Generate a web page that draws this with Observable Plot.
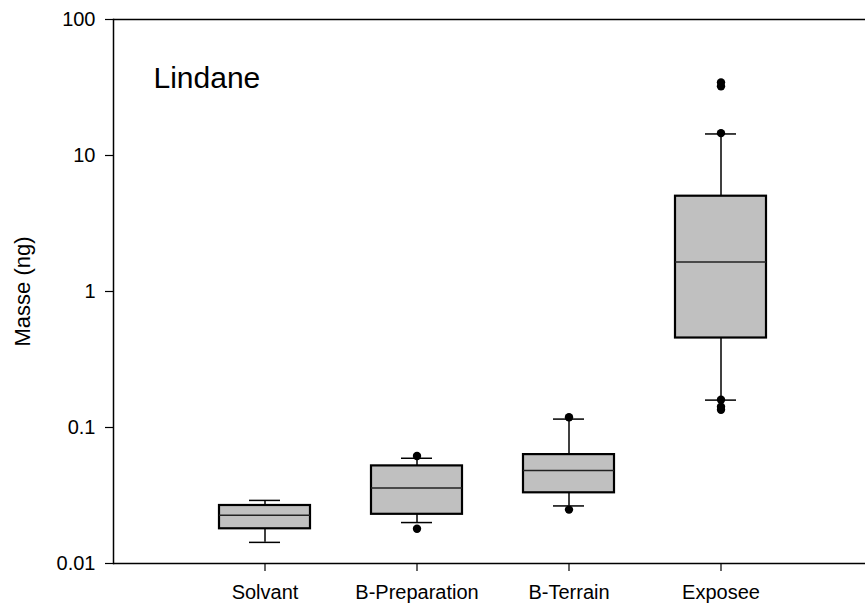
<!DOCTYPE html>
<html>
<head>
<meta charset="utf-8">
<script src="https://cdn.jsdelivr.net/npm/d3@7"></script>
<script src="https://cdn.jsdelivr.net/npm/@observablehq/plot@0.6"></script>
<style>
  body { margin: 0; background: #fff; }
  #chart svg { display: block; }
</style>
</head>
<body>
<div id="chart"></div>
<script>
// Lindane mass per sample group (ng), box-plot summaries
const categories = ["Solvant", "B-Preparation", "B-Terrain", "Exposee"];
const q1 = [0.0180, 0.0230, 0.0331, 0.455];
const medians = [0.0226, 0.0359, 0.0483, 1.65];
const q3 = [0.0267, 0.0522, 0.0632, 5.02];
const whiskerLow = [0.0143, 0.0200, 0.0265, 0.159];
const whiskerHigh = [0.0291, 0.0594, 0.1153, 14.4];
const outlierGroup = ["B-Preparation", "B-Preparation", "B-Terrain", "B-Terrain",
  "Exposee", "Exposee", "Exposee", "Exposee", "Exposee", "Exposee"];
const outlierValue = [0.0618, 0.0180, 0.119, 0.0249, 34.5, 32.3, 14.6, 0.160, 0.142, 0.135];
const yTicks = [0.01, 0.1, 1, 10, 100];
const yTickLabels = ["0.01", "0.1", "1", "10", "100"];
const yLabel = "Masse (ng)";
const panelTitle = "Lindane";

const boxes = categories.map((c, i) => ({
  group: c, q1: q1[i], median: medians[i], q3: q3[i],
  lo: whiskerLow[i], hi: whiskerHigh[i]
}));
const outliers = outlierGroup.map((g, i) => ({group: g, value: outlierValue[i]}));

const font = "'Liberation Sans', Arial, Helvetica, sans-serif";

const chart = Plot.plot({
  width: 865,
  height: 608,
  marginLeft: 113,
  marginRight: 0,
  marginTop: 19,
  marginBottom: 45,
  style: {fontFamily: font, fontSize: "20px", color: "#000", background: "#fff"},
  x: {
    type: "band",
    domain: categories,
    range: [113, 873],
    paddingInner: 0.4,
    paddingOuter: 0.7
  },
  y: {type: "log", domain: [0.01, 100]},
  marks: [
    // whisker stems
    Plot.ruleX(boxes, {x: "group", y1: "lo", y2: "q1", stroke: "#000", strokeWidth: 1.5}),
    Plot.ruleX(boxes, {x: "group", y1: "q3", y2: "hi", stroke: "#000", strokeWidth: 1.5}),
    // whisker caps
    Plot.tickY(boxes, {x: "group", y: "lo", stroke: "#000", strokeWidth: 1.5, inset: 30}),
    Plot.tickY(boxes, {x: "group", y: "hi", stroke: "#000", strokeWidth: 1.5, inset: 30}),
    // interquartile boxes
    Plot.barY(boxes, {x: "group", y1: "q1", y2: "q3", fill: "#c0c0c0", stroke: "#000", strokeWidth: 2.2}),
    // medians
    Plot.tickY(boxes, {x: "group", y: "median", stroke: "#222", strokeWidth: 1.5}),
    // outliers
    Plot.dot(outliers, {x: "group", y: "value", r: 4.2, fill: "#000", stroke: "none"}),
    // frame lines: bottom, top, left
    Plot.ruleY([0.01], {stroke: "#000", strokeWidth: 1.5}),
    Plot.ruleY([100], {stroke: "#000", strokeWidth: 1.5}),
    Plot.frame({anchor: "left", stroke: "#000", strokeWidth: 1.5}),
    Plot.axisY({
      ticks: yTicks,
      tickFormat: (d) => yTickLabels[yTicks.indexOf(d)],
      tickSize: 8,
      tickPadding: 10,
      label: null,
      fontSize: 20,
      stroke: "#000",
      strokeWidth: 1.2
    }),
    Plot.axisX({
      tickSize: 8,
      tickPadding: 13,
      label: null,
      fontSize: 20,
      stroke: "#000",
      strokeWidth: 1.2
    }),
    Plot.text([yLabel], {
      frameAnchor: "left", textAnchor: "middle", rotate: -90, dx: -91, fontSize: 22, fill: "#000"
    }),
    Plot.text([panelTitle], {
      frameAnchor: "top-left", textAnchor: "start", dx: 40, dy: 47, fontSize: 30, fill: "#000"
    })
  ]
});

document.getElementById("chart").appendChild(chart);
</script>
</body>
</html>
